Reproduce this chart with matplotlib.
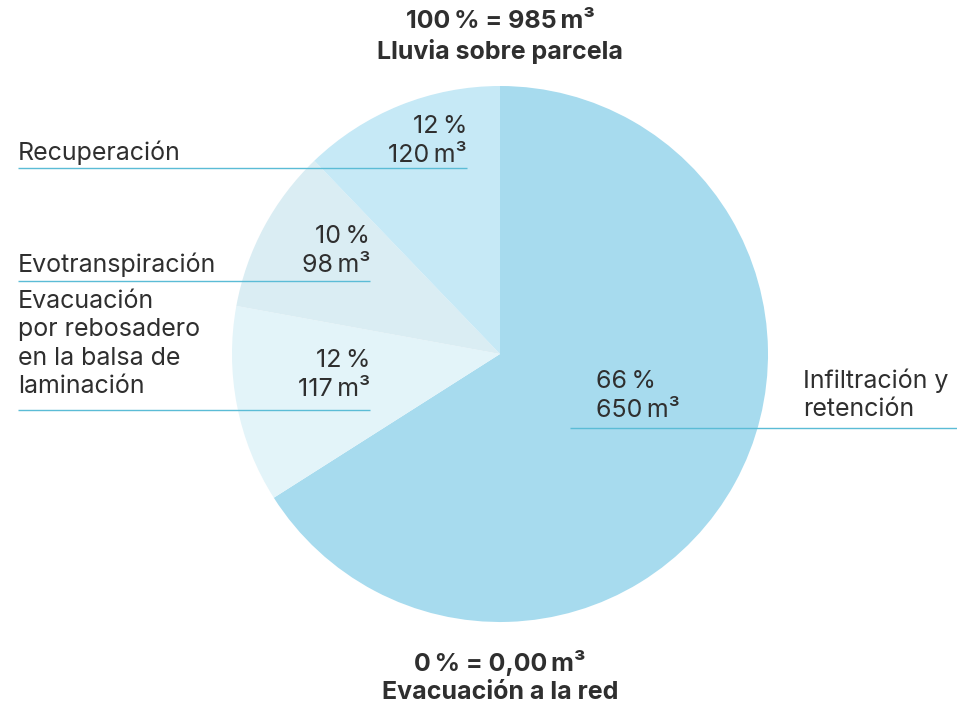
import matplotlib
matplotlib.use("Agg")
import matplotlib.pyplot as plt

# slice data, clockwise from the top
labels = ["Infiltración y\nretención",
          "Evacuación\npor rebosadero\nen la balsa de\nlaminación",
          "Evotranspiración",
          "Recuperación"]
percents = [66, 12, 10, 12]
volumes = [650, 117, 98, 120]
colors = ["#a7dbee", "#e3f4f9", "#daedf3", "#c6e9f6"]

top_title = ["100\u2009% = 985\u2009m³", "Lluvia sobre parcela"]
bottom_title = ["0\u2009% = 0,00\u2009m³", "Evacuación a la red"]

plt.rcParams["font.family"] = ["Inter", "DejaVu Sans"]
text_color = "#2f2f2f"
line_color = "#5bbcd6"

fig = plt.figure(figsize=(9.57, 7.10), dpi=100)
ax = fig.add_axes([0, 0, 1, 1])

# y axis is inverted below, so start at -90 and go counterclockwise in data
# space, which reads clockwise from the top on screen
ax.pie(volumes, colors=colors, startangle=-90, counterclock=True,
       center=(500, 354), radius=268,
       wedgeprops=dict(linewidth=0))
ax.set_xlim(0, 957)
ax.set_ylim(710, 0)
ax.set_aspect("auto")
ax.axis("off")

fs = 18

# label pos, value pos, (line y, x0, x1), value alignment
layout = {
    0: dict(lab=(803, 395), val=(596, 396), line=(428, 570, 957), ha="left"),
    1: dict(lab=(18, 344), val=(370, 375), line=(410, 18, 370), ha="right"),
    2: dict(lab=(18, 265), val=(370, 251), line=(281, 18, 370), ha="right"),
    3: dict(lab=(18, 153), val=(467, 141), line=(168, 18, 467), ha="right"),
}

for i, (lab, pct, vol) in enumerate(zip(labels, percents, volumes)):
    p = layout[i]
    ax.text(p["lab"][0], p["lab"][1], lab, ha="left", va="center",
            fontsize=fs, color=text_color, linespacing=1.3)
    ax.text(p["val"][0], p["val"][1], f"{pct}\u2009%\n{vol}\u2009m³", ha=p["ha"],
            va="center", fontsize=fs, color=text_color, linespacing=1.3,
            multialignment=p["ha"])
    ly, x0, x1 = p["line"]
    ax.plot([x0, x1], [ly, ly], color=line_color, lw=1.0, solid_capstyle="butt")

ax.text(500, 37, "\n".join(top_title), ha="center", va="center",
        fontsize=fs, fontweight="bold", color=text_color, linespacing=1.3)
ax.text(500, 677, "\n".join(bottom_title), ha="center", va="center",
        fontsize=fs, fontweight="bold", color=text_color, linespacing=1.3)

fig.savefig("out.png", dpi=100, facecolor="white")
